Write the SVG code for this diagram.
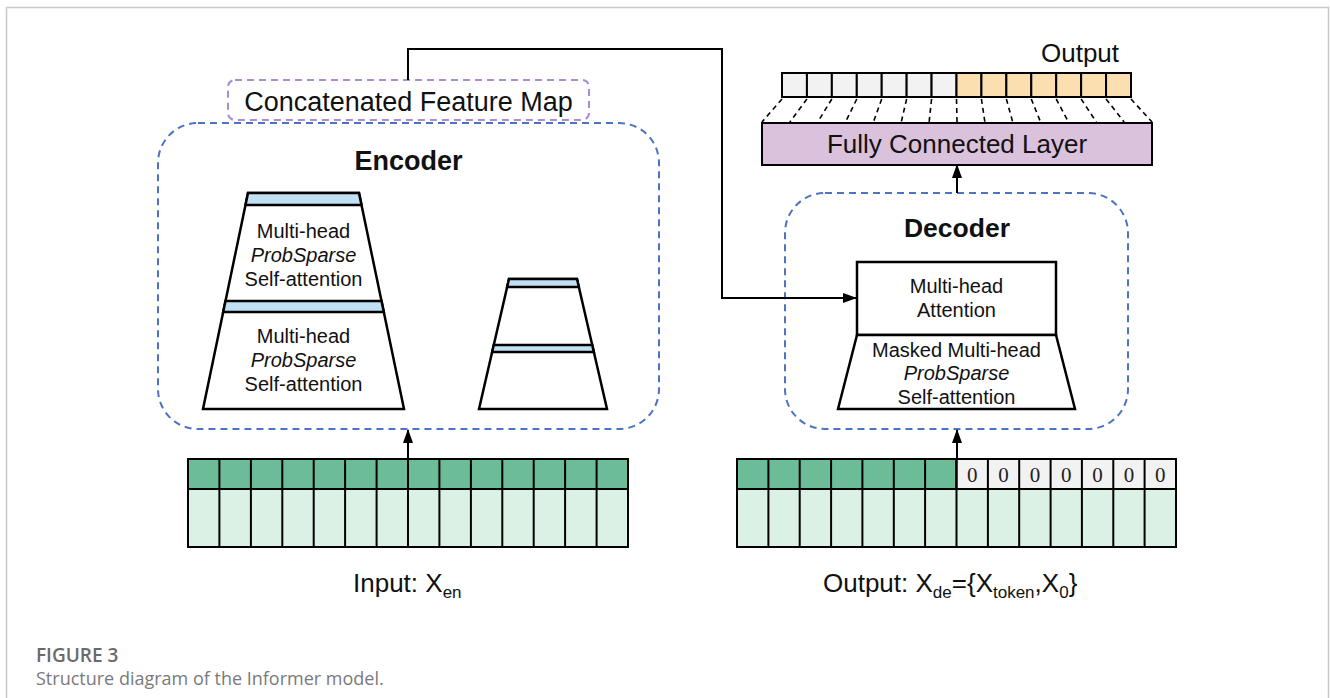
<svg xmlns="http://www.w3.org/2000/svg" width="1330" height="698" viewBox="0 0 1330 698">
  <style>
    .t { font-family: "Liberation Sans", Arial, sans-serif; fill: #111; }
    .blk { fill: #fff; stroke: #000; stroke-width: 2.5; stroke-linejoin: miter; }
    .bar { fill: #bfe1f3; stroke: #000; stroke-width: 2.5; }
    .grp { fill: none; stroke: #4d74c2; stroke-width: 2; stroke-dasharray: 7 5; }
    .cell { stroke: #000; stroke-width: 2; }
    .g1 { fill: #6cbd97; }
    .g2 { fill: #dcf1e6; }
    .gy { fill: #f2f2f2; }
    .or { fill: #fbdfb1; }
    .conn { fill: none; stroke: #000; stroke-width: 2; }
    .fcl { stroke: #000; stroke-width: 1.6; stroke-dasharray: 5 4; }
  </style>
  <defs>
    <marker id="arr" markerWidth="14" markerHeight="10" refX="13" refY="5" orient="auto" markerUnits="userSpaceOnUse">
      <path d="M0,0 L14,5 L0,10 Z" fill="#000"/>
    </marker>
  </defs>

  <rect width="1330" height="698" fill="#fff"/>
  <!-- page frame -->
  <path d="M6.5,698 V7.5 H1328.5 V698" fill="none" stroke="#c8c8c8" stroke-width="1.5"/>

  <!-- Encoder group -->
  <g id="encoder">
    <rect class="grp" x="158" y="123" width="501" height="306" rx="40"/>
    <text class="t" x="408.5" y="170" text-anchor="middle" font-size="27" font-weight="bold">Encoder</text>
    <!-- main stack -->
    <polygon class="blk" points="248,193 359,193 404,409 203,409"/>
    <polygon class="bar" points="248,193 359,193 361.5,205 245.5,205"/>
    <polygon class="bar" points="225.5,301 381.5,301 383.8,312 223.2,312"/>
    <g class="t" font-size="20" text-anchor="middle">
      <text x="303.5" y="238">Multi-head</text>
      <text x="303.5" y="262" font-style="italic">ProbSparse</text>
      <text x="303.5" y="286">Self-attention</text>
      <text x="303.5" y="343">Multi-head</text>
      <text x="303.5" y="367" font-style="italic">ProbSparse</text>
      <text x="303.5" y="391">Self-attention</text>
    </g>
    <!-- distilled stack -->
    <polygon class="blk" points="509,279 577,279 607,409 479,409"/>
    <polygon class="bar" points="509,279 577,279 578.8,287 507.2,287"/>
    <polygon class="bar" points="493.8,345 592.2,345 593.8,352 492.2,352"/>
  </g>

  <!-- Concatenated feature map -->
  <g id="concat">
    <rect x="228" y="80" width="361" height="40" rx="7" fill="#fff" stroke="#a98bd6" stroke-width="2" stroke-dasharray="7 5"/>
    <text class="t" x="408.5" y="111" text-anchor="middle" font-size="27">Concatenated Feature Map</text>
  </g>

  <!-- Decoder group -->
  <g id="decoder">
    <rect class="grp" x="785" y="193" width="343" height="236" rx="40"/>
    <text class="t" x="957" y="237" text-anchor="middle" font-size="26.5" font-weight="bold">Decoder</text>
    <rect class="blk" x="857" y="262" width="199" height="73"/>
    <polygon class="blk" points="857,335 1056,335 1075,409 838,409"/>
    <g class="t" font-size="20" text-anchor="middle">
      <text x="956.5" y="293">Multi-head</text>
      <text x="956.5" y="317">Attention</text>
      <text x="956.5" y="357">Masked Multi-head</text>
      <text x="956.5" y="380" font-style="italic">ProbSparse</text>
      <text x="956.5" y="404">Self-attention</text>
    </g>
  </g>

  <!-- Fully connected layer -->
  <g id="fc">
    <rect x="762" y="123" width="390" height="42" fill="#dac1dc" stroke="#000" stroke-width="2"/>
    <text class="t" x="957" y="153" text-anchor="middle" font-size="26">Fully Connected Layer</text>
  </g>

  <!-- Output sequence -->
  <g id="output">
    <text class="t" x="1080" y="62" text-anchor="middle" font-size="26">Output</text>
    <g class="cell">
      <rect class="gy" x="782" y="73" width="24.93" height="24"/>
      <rect class="gy" x="806.93" y="73" width="24.93" height="24"/>
      <rect class="gy" x="831.86" y="73" width="24.93" height="24"/>
      <rect class="gy" x="856.79" y="73" width="24.93" height="24"/>
      <rect class="gy" x="881.71" y="73" width="24.93" height="24"/>
      <rect class="gy" x="906.64" y="73" width="24.93" height="24"/>
      <rect class="gy" x="931.57" y="73" width="24.93" height="24"/>
      <rect class="or" x="956.5" y="73" width="24.93" height="24"/>
      <rect class="or" x="981.43" y="73" width="24.93" height="24"/>
      <rect class="or" x="1006.36" y="73" width="24.93" height="24"/>
      <rect class="or" x="1031.29" y="73" width="24.93" height="24"/>
      <rect class="or" x="1056.21" y="73" width="24.93" height="24"/>
      <rect class="or" x="1081.14" y="73" width="24.93" height="24"/>
      <rect class="or" x="1106.07" y="73" width="24.93" height="24"/>
    </g>
    <!-- dense mapping lines -->
    <g class="fcl">
      <line x1="782" y1="99" x2="762" y2="122"/>
      <line x1="806.93" y1="99" x2="789.86" y2="122"/>
      <line x1="831.86" y1="99" x2="817.71" y2="122"/>
      <line x1="856.79" y1="99" x2="845.57" y2="122"/>
      <line x1="881.71" y1="99" x2="873.43" y2="122"/>
      <line x1="906.64" y1="99" x2="901.29" y2="122"/>
      <line x1="931.57" y1="99" x2="929.14" y2="122"/>
      <line x1="956.5" y1="99" x2="957" y2="122"/>
      <line x1="981.43" y1="99" x2="984.86" y2="122"/>
      <line x1="1006.36" y1="99" x2="1012.71" y2="122"/>
      <line x1="1031.29" y1="99" x2="1040.57" y2="122"/>
      <line x1="1056.21" y1="99" x2="1068.43" y2="122"/>
      <line x1="1081.14" y1="99" x2="1096.29" y2="122"/>
      <line x1="1106.07" y1="99" x2="1124.14" y2="122"/>
      <line x1="1131" y1="99" x2="1152" y2="122"/>
    </g>
  </g>

  <!-- Encoder input grid -->
  <g id="input-grid" class="cell">
    <rect class="g1" x="188" y="459" width="440" height="30"/>
    <rect class="g2" x="188" y="489" width="440" height="58"/>
    <path d="M219.4,459V547 M250.9,459V547 M282.3,459V547 M313.7,459V547 M345.1,459V547 M376.6,459V547 M408,459V547 M439.4,459V547 M470.9,459V547 M502.3,459V547 M533.7,459V547 M565.1,459V547 M596.6,459V547" fill="none"/>
  </g>
  <text id="input-label" class="t" x="353" y="592" font-size="26">Input: X<tspan font-size="17" dy="6">en</tspan></text>

  <!-- Decoder input grid -->
  <g id="decoder-grid">
    <g class="cell">
      <rect class="g1" x="737" y="459" width="219.5" height="30"/>
      <rect class="gy" x="956.5" y="459" width="219.5" height="30"/>
      <rect class="g2" x="737" y="489" width="439" height="58"/>
      <path d="M768.4,459V547 M799.7,459V547 M831.1,459V547 M862.4,459V547 M893.8,459V547 M925.1,459V547 M956.5,459V547 M987.9,459V547 M1019.2,459V547 M1050.6,459V547 M1081.9,459V547 M1113.3,459V547 M1144.6,459V547" fill="none"/>
    </g>
    <g font-family="Liberation Serif, 'Times New Roman', serif" font-size="21" fill="#222" text-anchor="middle">
      <text x="972.2" y="482">0</text>
      <text x="1003.5" y="482">0</text>
      <text x="1034.9" y="482">0</text>
      <text x="1066.2" y="482">0</text>
      <text x="1097.6" y="482">0</text>
      <text x="1128.9" y="482">0</text>
      <text x="1160.3" y="482">0</text>
    </g>
  </g>
  <text id="output-label" class="t" x="823" y="592" font-size="26">Output: X<tspan font-size="17" dy="6">de</tspan><tspan dy="-6">={X</tspan><tspan font-size="17" dy="6">token</tspan><tspan dy="-6">,X</tspan><tspan font-size="17" dy="6">0</tspan><tspan dy="-6">}</tspan></text>

  <!-- Connectors -->
  <g id="connectors" class="conn">
    <path d="M408,80 V49 H722 V298 H856" marker-end="url(#arr)"/>
    <path d="M408,459 V430" marker-end="url(#arr)"/>
    <path d="M957,459 V430" marker-end="url(#arr)"/>
    <path d="M957,193 V165" marker-end="url(#arr)"/>
  </g>

  <!-- Caption -->
  <g id="caption" font-family="'Open Sans', 'Noto Sans', sans-serif">
    <text x="36" y="662" font-size="19" font-weight="600" fill="#6a6a6a">FIGURE 3</text>
    <text x="36" y="685" font-size="18" fill="#7a7a7a">Structure diagram of the Informer model.</text>
  </g>
</svg>
